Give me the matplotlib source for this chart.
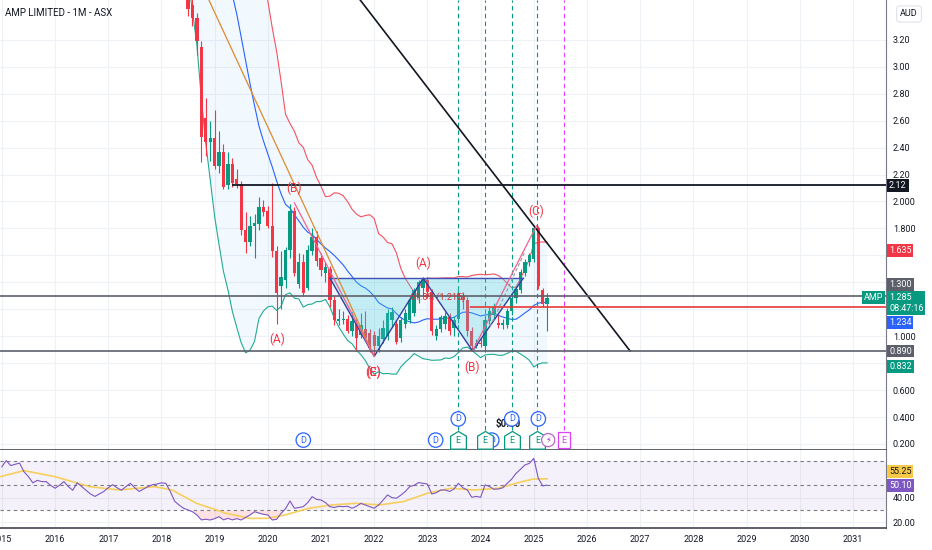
import numpy as np
import pandas as pd
import matplotlib
matplotlib.use('Agg')
import matplotlib.pyplot as plt
import matplotlib.transforms as mtransforms
from matplotlib.path import Path

plt.rcParams['font.family'] = ['Roboto', 'DejaVu Sans']

# monthly closes before the visible candles, only used to warm up the bands
hist_months = pd.date_range('2016-11-01', '2018-06-01', freq='MS')
hist_close = [4.90, 5.03, 4.95, 5.10, 5.17, 5.34, 5.21, 5.20, 5.50, 5.35,
              4.85, 4.97, 5.21, 5.20, 5.26, 5.05, 5.00, 4.10, 3.78, 3.56]

# AMP monthly candles Jul 2018 .. Apr 2025
months = pd.date_range('2018-07-01', '2025-04-01', freq='MS')
opens = [3.62, 3.46, 3.36, 3.15, 2.62, 2.44,
         2.47, 2.26, 2.37, 2.12, 2.28, 2.17, 2.13, 1.79, 1.70, 1.82, 1.83, 1.96,
         1.93, 1.82, 1.63, 1.37, 1.42, 1.64, 1.93, 1.39, 1.55, 1.36, 1.63, 1.74,
         1.58, 1.47, 1.50, 1.27, 1.11, 1.12, 1.13, 1.04, 1.10, 1.01, 1.05, 1.02,
         1.01, 0.93, 0.98, 1.00, 1.12, 1.09, 0.99, 1.09, 1.12, 1.17, 1.28, 1.36,
         1.42, 1.33, 1.00, 1.05, 1.09, 1.14, 1.06, 1.13, 1.30, 1.27, 1.04, 0.93,
         0.95, 0.93, 1.11, 1.16, 1.10, 1.08, 1.08, 1.19, 1.28, 1.34, 1.47, 1.55,
         1.57, 1.80, 1.34, 1.24]
highs = [3.66, 3.52, 3.40, 3.19, 2.77, 2.60,
         2.68, 2.52, 2.43, 2.37, 2.32, 2.24, 2.15, 1.92, 1.89, 1.91, 2.03, 2.01,
         1.97, 2.14, 1.67, 1.63, 1.66, 1.98, 1.96, 1.62, 1.61, 1.68, 1.80, 1.78,
         1.62, 1.55, 1.52, 1.30, 1.20, 1.19, 1.16, 1.18, 1.13, 1.17, 1.19, 1.05,
         1.04, 1.06, 1.12, 1.20, 1.22, 1.12, 1.14, 1.20, 1.29, 1.36, 1.42, 1.44,
         1.44, 1.35, 1.08, 1.16, 1.18, 1.17, 1.15, 1.35, 1.33, 1.29, 1.07, 0.98,
         0.99, 1.16, 1.22, 1.25, 1.16, 1.13, 1.21, 1.30, 1.37, 1.50, 1.57, 1.62,
         1.82, 1.82, 1.36, 1.32]
lows = [3.38, 3.30, 3.09, 2.29, 2.34, 2.30,
        2.24, 2.21, 2.09, 2.09, 2.11, 2.10, 1.75, 1.62, 1.67, 1.58, 1.79, 1.89,
        1.80, 1.59, 1.09, 1.20, 1.36, 1.58, 1.45, 1.36, 1.30, 1.34, 1.60, 1.52,
        1.45, 1.40, 1.22, 1.08, 1.08, 1.09, 1.02, 1.00, 0.89, 0.99, 0.97, 0.88,
        0.85, 0.88, 0.95, 0.97, 1.07, 0.94, 0.96, 1.06, 1.10, 1.15, 1.25, 1.30,
        1.28, 1.01, 0.97, 1.03, 1.05, 1.01, 1.00, 1.10, 1.20, 1.00, 0.89, 0.91,
        0.92, 0.91, 1.09, 1.13, 1.06, 1.05, 1.06, 1.16, 1.25, 1.32, 1.45, 1.52,
        1.55, 1.35, 1.22, 1.04]
closes = [3.43, 3.36, 3.19, 2.48, 2.44, 2.47,
          2.26, 2.37, 2.11, 2.28, 2.14, 2.13, 1.79, 1.70, 1.82, 1.84, 1.96, 1.92,
          1.82, 1.63, 1.32, 1.44, 1.64, 1.93, 1.47, 1.55, 1.32, 1.64, 1.74, 1.56,
          1.49, 1.51, 1.27, 1.12, 1.13, 1.13, 1.04, 1.11, 0.99, 1.08, 0.99, 0.91,
          0.93, 1.00, 1.06, 1.17, 1.18, 0.96, 1.12, 1.17, 1.27, 1.34, 1.40, 1.42,
          1.33, 1.04, 1.05, 1.14, 1.15, 1.04, 1.12, 1.32, 1.27, 1.04, 0.93, 0.95,
          0.94, 1.12, 1.19, 1.22, 1.08, 1.10, 1.19, 1.28, 1.35, 1.48, 1.55, 1.60,
          1.80, 1.37, 1.24, 1.285]

# RSI (monthly) Jan 2015 .. Apr 2025
rsi_months = pd.date_range('2015-01-01', '2025-04-01', freq='MS')
rsi_values = [65, 70, 66, 67, 68, 61, 57, 52, 54, 53, 53, 50,
              47.6, 50, 53, 49, 46, 52, 49, 46, 43, 41, 43, 45,
              48, 50.5, 48, 46, 49, 51.6, 48, 45, 47, 49, 50.5, 51,
              52, 51.6, 45, 37, 34, 31.4, 30, 28.6, 26, 22, 22.5, 21.9,
              23, 24.6, 22, 23.2, 22, 23, 21.9, 24, 26, 28.6, 27.5, 26.5,
              26, 21.9, 22.5, 27.3, 31, 37.3, 31.4, 32, 32.7, 36, 40.8, 38.6,
              38.1, 36, 32.7, 32, 33, 32.7, 33, 31.4, 33, 35.4, 34, 32.7,
              31.4, 34.1, 38, 42.2, 40, 39.5, 42, 44.9, 48.9, 50, 52.2, 51.6,
              51, 42.9, 44, 46.2, 46.2, 45, 47, 51.6, 48, 46.2, 40.3, 41,
              40.3, 50.3, 49, 46.8, 47, 48, 51.6, 55, 59.7, 63, 66.5, 67.8,
              71.9, 55.7, 49.5, 50.1]
# RSI moving average, read at a few points
rsi_ma_t = [2014.97, 2015.42, 2016.0, 2016.65, 2017.2, 2017.87, 2018.2, 2018.66,
            2019.22, 2019.66, 2019.99, 2020.32, 2020.77, 2021.21, 2021.66, 2022.1,
            2022.55, 2023.0, 2023.44, 2023.88, 2024.33, 2024.78, 2025.0, 2025.25]
rsi_ma = [57, 61.9, 57, 48.9, 46.2, 48.9, 46.2, 35.4, 27.3, 23.2, 23.2, 25.9,
          31.4, 34.1, 35.4, 34.1, 36.8, 43.5, 47.6, 46.2, 47.6, 53, 55.1, 55.25]

# drawings
pattern_t = [2021.17, 2022.0, 2022.92, 2023.85, 2024.8]
pattern_p = [1.43, 0.85, 1.43, 0.89, 1.43]
trend_orange_t = [2018.7, 2022.0]
trend_orange_p = [3.66, 0.85]
trend_black_t = [2021.3, 2026.81]
trend_black_p = [3.72, 0.89]
leg1_t = [2020.5, 2022.0]
leg1_p = [1.99, 0.85]
leg2_t = [2023.85, 2025.05]
leg2_p = [0.89, 1.82]
leg2_dash_t = [2024.18, 2024.83]
leg2_dash_p = [1.07, 1.625]
wave_labels = [('(A)', 2020.17, 0.98), ('(B)', 2020.5, 2.10), ('(C)', 2021.98, 0.73),
               ('(E)', 2021.98, 0.73), ('(A)', 2022.92, 1.54), ('(B)', 2023.84, 0.77),
               ('(C)', 2025.05, 1.93)]

# events
div_t = [2020.667, 2023.155, 2024.21, 2023.58, 2024.585, 2025.085]
div_row = [0, 0, 0, 1, 1, 1]
earn_t = [2023.58, 2024.08, 2024.585, 2025.066]
next_earn_t = 2025.57
split_t = 2025.27

years = list(range(2015, 2032))
price_ticks = [0.2, 0.4, 0.6, 0.8, 1.0, 1.2, 1.4, 1.6, 1.8, 2.0, 2.2, 2.4, 2.6, 2.8, 3.0, 3.2]
# labels that sit under the value tags are left blank
price_tick_labels = ['0.200', '0.400', '0.600', '', '1.000', '', '', '',
                     '1.800', '2.000', '2.20', '2.40', '2.60', '2.80', '3.00', '3.20']


def dec_year(idx):
    return np.asarray(idx.year + (idx.month - 1) / 12.0, dtype=float)


GREEN = '#089981'
RED = '#f23645'
TXT = '#131722'
GRID = '#eef1f6'

fig = plt.figure(figsize=(9.32, 5.5), dpi=100)
ax = fig.add_axes([0, 1 - 450 / 550, 886 / 932, 450 / 550])
rax = fig.add_axes([0, 1 - 528 / 550, 886 / 932, 78 / 550], sharex=ax)

t = dec_year(months)
o = np.array(opens)
h = np.array(highs)
l = np.array(lows)
c = np.array(closes)

# bollinger bands 20, 2
all_close = pd.Series(hist_close + closes)
all_t = np.concatenate([dec_year(hist_months), t])
mid = all_close.rolling(20).mean().values
sd = all_close.rolling(20).std(ddof=0).values
upper = mid + 2 * sd
lower = mid - 2 * sd
ok = ~np.isnan(mid)
ax.fill_between(all_t[ok], lower[ok], upper[ok], color='#2196f3', alpha=0.06, lw=0, zorder=1)
ax.plot(all_t[ok], upper[ok], color='#f7525f', lw=0.8, zorder=2)
ax.plot(all_t[ok], mid[ok], color='#2962ff', lw=0.8, zorder=2)
ax.plot(all_t[ok], lower[ok], color='#22ab94', lw=0.8, zorder=2)

# candles
colors = np.where(c >= o, GREEN, RED)
ax.vlines(t, l, h, colors=colors, lw=0.8, zorder=3)
body = np.maximum(np.abs(c - o), 0.005)
ax.bar(t, body, bottom=np.minimum(o, c), width=0.062, color=colors, lw=0, zorder=3)

# harmonic pattern
ax.fill(pattern_t[0:3], pattern_p[0:3], color='#4dd0e1', alpha=0.28, lw=0, zorder=4)
ax.fill(pattern_t[2:5], pattern_p[2:5], color='#4dd0e1', alpha=0.28, lw=0, zorder=4)
ax.plot(pattern_t, pattern_p, color='#303f9f', lw=1, zorder=5)
ax.plot([pattern_t[0], pattern_t[-1]], [pattern_p[0], pattern_p[-1]], color='#3f51b5', lw=1, zorder=5)

# trend lines
ax.plot(trend_orange_t, trend_orange_p, color='#e08a2e', lw=0.9, zorder=5)
ax.plot(trend_black_t, trend_black_p, color=TXT, lw=1.2, zorder=5)
ax.plot(leg1_t, leg1_p, color='#f06292', lw=0.9, zorder=5)
ax.plot(leg2_t, leg2_p, color='#f06292', lw=0.9, zorder=5)
ax.plot(leg2_dash_t, leg2_dash_p, color='#9598a1', lw=0.8, ls=(0, (3, 2)), zorder=5)

# horizontal levels
xr = 2031.62
ax.hlines(2.12, 2019.32, xr, color=TXT, lw=1.3, zorder=5)
ax.axhline(1.30, color='#5d606b', lw=1.2, zorder=5)
ax.axhline(0.89, color='#5d606b', lw=1.2, zorder=5)
ax.hlines(1.215, 2023.8, xr, color='#e53935', lw=1.2, zorder=5)
ax.text(2023.19, 1.29, '61.8% (1.215)', color='#d32f2f', fontsize=6.5, ha='center', va='center', zorder=5)

for txt, x, y in wave_labels:
    ax.text(x, y, txt, color=RED, fontsize=8.5, ha='center', va='center', zorder=6)

# events along the bottom
blend = mtransforms.blended_transform_factory(ax.transData, ax.transAxes)
for et in earn_t:
    ax.axvline(et, ymin=0.045, ymax=1, color=GREEN, lw=0.8, ls=(0, (4, 3)), zorder=2)
ax.axvline(next_earn_t, ymin=0.045, ymax=1, color='#e040fb', lw=0.8, ls=(0, (4, 3)), zorder=2)

ax.text(2024.515, 0.058, '$0.00', transform=blend, fontsize=7, fontweight='bold',
        color=TXT, ha='center', va='center', zorder=6)
row_y = [0.022, 0.069]
for dt, row in zip(div_t, div_row):
    ax.text(dt, row_y[row], 'D', transform=blend, fontsize=6.5, color='#2962ff', ha='center', va='center',
            zorder=7, clip_on=False,
            bbox=dict(boxstyle='circle,pad=0.3', fc='white', ec='#2962ff', lw=0.9))
house = Path([(-1, -1.1), (1, -1.1), (1, 0.55), (0, 1.15), (-1, 0.55), (-1, -1.1)],
             [Path.MOVETO, Path.LINETO, Path.LINETO, Path.LINETO, Path.LINETO, Path.CLOSEPOLY])
ax.scatter(earn_t, [row_y[0]] * len(earn_t), transform=blend, marker=house, s=170,
           facecolor='white', edgecolor=GREEN, lw=0.9, zorder=8, clip_on=False)
for et in earn_t:
    ax.text(et, row_y[0], 'E', transform=blend, fontsize=6.5, color=GREEN, ha='center', va='center', zorder=9)
ax.text(split_t, row_y[0], '\u26a1', transform=blend, fontsize=6, color='#9c27b0', ha='center', va='center',
        family=['DejaVu Sans'], zorder=8,
        bbox=dict(boxstyle='circle,pad=0.25', fc='white', ec='#ba68c8', lw=0.9))
ax.text(next_earn_t, row_y[0], 'E', transform=blend, fontsize=6.5, color='#e040fb', ha='center', va='center',
        zorder=8, bbox=dict(boxstyle='square,pad=0.35', fc='white', ec='#e040fb', lw=0.9))

# axes styling
ax.set_xlim(2014.966, xr)
ax.set_ylim(0.155, 3.496)
ax.yaxis.tick_right()
ax.set_yticks(price_ticks)
ax.set_yticklabels(price_tick_labels)
ax.tick_params(axis='y', length=0, pad=5, labelsize=6.5, colors=TXT)
ax.tick_params(axis='x', length=0, labelbottom=False)
ax.set_xticks(years)
ax.grid(True, color=GRID, lw=0.8, zorder=0)
ax.set_axisbelow(True)
for s in ['top', 'left']:
    ax.spines[s].set_visible(False)
ax.spines['right'].set_color('#787b86')
ax.spines['right'].set_linewidth(0.8)
ax.spines['bottom'].set_color('#434651')
ax.spines['bottom'].set_linewidth(1.2)

# RSI pane
rt = dec_year(rsi_months)
rv = np.array(rsi_values)
rax.axhspan(30, 70, color='#7e57c2', alpha=0.08, lw=0)
for lvl in [70, 50, 30]:
    rax.axhline(lvl, color='#787b86', lw=0.8, ls=(0, (3, 3)))
rax.fill_between(rt, rv, 30, where=rv < 30, interpolate=True, color=RED, alpha=0.15, lw=0)
rax.fill_between(rt, rv, 70, where=rv > 70, interpolate=True, color=GREEN, alpha=0.25, lw=0)
rax.plot(rsi_ma_t, rsi_ma, color='#f6cf5c', lw=1.2)
rax.plot(rt, rv, color='#7e57c2', lw=0.8)
rax.set_ylim(15.4, 78.6)
rax.yaxis.tick_right()
rax.set_yticks([20, 40])
rax.set_yticklabels(['20.00', '40.00'])
rax.tick_params(axis='y', length=0, pad=5, labelsize=6.5, colors=TXT)
rax.set_xticks(years)
rax.set_xticklabels([str(y) for y in years])
rax.tick_params(axis='x', length=0, pad=5, labelsize=6.5, colors=TXT)
rax.grid(True, color=GRID, lw=0.8)
rax.set_axisbelow(True)
for s in ['top', 'left']:
    rax.spines[s].set_visible(False)
rax.spines['right'].set_color('#787b86')
rax.spines['right'].set_linewidth(0.8)
rax.spines['bottom'].set_color('#434651')
rax.spines['bottom'].set_linewidth(1.2)


def tag(axis, y, text, fc, tc='white', dy=0, va='center', ha='left', dx=3):
    axis.annotate(text, xy=(1, y), xycoords=axis.get_yaxis_transform(), xytext=(dx, dy),
                  textcoords='offset pixels', ha=ha, va=va, fontsize=6.5, color=tc,
                  annotation_clip=False, zorder=20, linespacing=1.25,
                  bbox=dict(boxstyle='square,pad=0.22', fc=fc, ec='none'))


tag(ax, 2.12, '2.12', TXT)
tag(ax, 1.635, '1.635', RED)
tag(ax, 1.30, '1.300', '#5d606b', dy=11)
tag(ax, 1.285, '1.285\n08:47:16', GREEN, dy=5, va='top')
tag(ax, 1.285, 'AMP', GREEN, ha='right', dx=-3)
tag(ax, 1.234, '1.234', '#2962ff', dy=-18)
tag(ax, 0.89, '0.890', '#5d606b')
tag(ax, 0.832, '0.832', GREEN, dy=-8)
tag(rax, 55.25, '55.25', '#f7c948', tc=TXT, dy=7)
tag(rax, 50.10, '50.10', '#7e57c2')

fig.text(5 / 932, 1 - 13 / 550, 'AMP LIMITED - 1M - ASX', fontsize=7, color=TXT, ha='left', va='center')
fig.text(909 / 932, 1 - 14 / 550, 'AUD', fontsize=6.5, color=TXT, ha='center', va='center',
         bbox=dict(boxstyle='round,pad=0.4', fc='white', ec='#e0e3eb', lw=0.8))

fig.savefig('out.png', dpi=100)
